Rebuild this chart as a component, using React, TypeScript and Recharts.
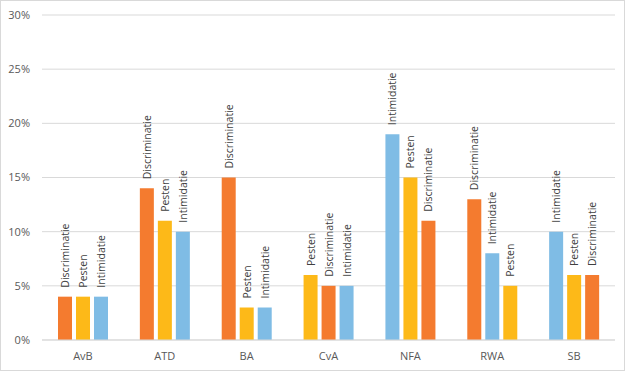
import { BarChart, Bar, XAxis, YAxis, CartesianGrid, Cell, LabelList } from "recharts";

const categories = ["AvB", "ATD", "BA", "CvA", "NFA", "RWA", "SB"];

// bars are sorted per category, so each slot carries its own type
const firstType = ["Discriminatie", "Discriminatie", "Discriminatie", "Pesten", "Intimidatie", "Discriminatie", "Intimidatie"];
const firstValue = [4, 14, 15, 6, 19, 13, 10];
const secondType = ["Pesten", "Pesten", "Pesten", "Discriminatie", "Pesten", "Intimidatie", "Pesten"];
const secondValue = [4, 11, 3, 5, 15, 8, 6];
const thirdType = ["Intimidatie", "Intimidatie", "Intimidatie", "Intimidatie", "Discriminatie", "Pesten", "Discriminatie"];
const thirdValue = [4, 10, 3, 5, 11, 5, 6];

const yTicks = [0, 5, 10, 15, 20, 25, 30];

const typeColors: Record<string, string> = {
    Discriminatie: "#F47B2F",
    Pesten: "#FDB918",
    Intimidatie: "#7FBCE5",
};

const data = categories.map((cat, i) => ({
    cat,
    first: firstValue[i],
    second: secondValue[i],
    third: thirdValue[i],
}));

const font = "'Open Sans', sans-serif";

function makeLabel(types: string[]) {
    return (props: any) => {
        const { x, y, width, index } = props;
        const cx = Number(x) + Number(width) / 2;
        const cy = Number(y) - 9;
        return (
            <text
                x={cx}
                y={cy}
                transform={`rotate(-90 ${cx} ${cy})`}
                textAnchor="start"
                dominantBaseline="central"
                fontSize={10.5}
                fontFamily={font}
                fill="#404040"
            >
                {types[index]}
            </text>
        );
    };
}

const slots = [
    { key: "first", types: firstType },
    { key: "second", types: secondType },
    { key: "third", types: thirdType },
];

export default function App() {
    return (
        <div style={{ position: "absolute", left: 0, top: 0, width: 630, height: 373, background: "#fff" }}>
            <div
                style={{
                    position: "absolute",
                    left: 0,
                    top: 0,
                    width: 625,
                    height: 371,
                    border: "1px solid #D9D9D9",
                    boxSizing: "border-box",
                }}
            />
            <BarChart
                width={630}
                height={373}
                data={data}
                margin={{ top: 15, right: 15, left: 0, bottom: 8 }}
                barSize={14}
                barGap={4}
                style={{ position: "absolute", left: 0, top: 0 }}
            >
                <CartesianGrid vertical={false} stroke="#D9D9D9" />
                <XAxis
                    dataKey="cat"
                    height={25}
                    tickLine={false}
                    axisLine={{ stroke: "#D9D9D9" }}
                    tick={{ fontSize: 11, fill: "#595959", fontFamily: font }}
                    tickMargin={6}
                />
                <YAxis
                    width={42}
                    domain={[0, 30]}
                    ticks={yTicks}
                    axisLine={false}
                    tickLine={false}
                    tick={{ fontSize: 11, fill: "#595959", fontFamily: font }}
                    tickFormatter={(v) => `${v}%`}
                    tickMargin={6}
                />
                {slots.map((s) => (
                    <Bar key={s.key} dataKey={s.key} isAnimationActive={false}>
                        {s.types.map((t, i) => (
                            <Cell key={i} fill={typeColors[t]} />
                        ))}
                        <LabelList dataKey={s.key} content={makeLabel(s.types)} />
                    </Bar>
                ))}
            </BarChart>
        </div>
    );
}
